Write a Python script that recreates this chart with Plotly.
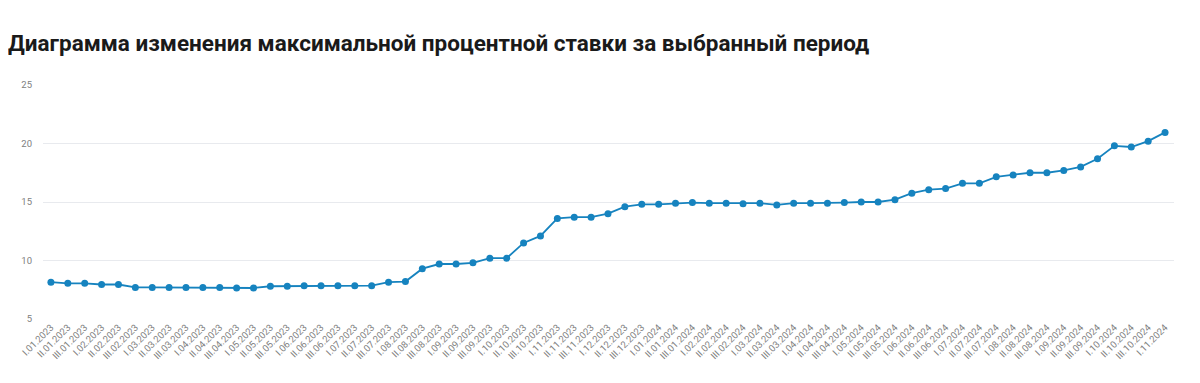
import plotly.graph_objects as go

months = ["01", "02", "03", "04", "05", "06", "07", "08", "09", "10", "11", "12"]
decades = ["I", "II", "III"]
labels = []
for year in ["2023", "2024"]:
    for m in months:
        for d in decades:
            labels.append(f"{d}.{m}.{year}")
labels = labels[:labels.index("I.11.2024") + 1]

values = [
    8.15, 8.05, 8.05, 7.95, 7.95, 7.7, 7.7, 7.7, 7.7, 7.7,
    7.7, 7.65, 7.65, 7.8, 7.8, 7.85, 7.85, 7.85, 7.85, 7.85,
    8.15, 8.2, 9.3, 9.7, 9.7, 9.8, 10.2, 10.2, 11.5, 12.1,
    13.6, 13.7, 13.7, 14.0, 14.6, 14.8, 14.8, 14.9, 14.95, 14.9,
    14.9, 14.85, 14.9, 14.75, 14.9, 14.9, 14.9, 14.95, 15.0, 15.0,
    15.2, 15.75, 16.05, 16.15, 16.6, 16.6, 17.15, 17.3, 17.5, 17.5,
    17.7, 18.0, 18.7, 19.8, 19.7, 20.2, 20.95,
]

y_ticks = [5, 10, 15, 20, 25]
title_text = "Диаграмма изменения максимальной процентной ставки за выбранный период"

fig = go.Figure()
fig.add_trace(go.Scatter(
    x=labels, y=values, mode="lines+markers",
    line=dict(color="#1683bf", width=1.8),
    marker=dict(color="#1683bf", size=7),
    hoverinfo="x+y",
))

# the page body has an 8px margin, so the figure is sized to compensate
fig.update_layout(
    width=1192, height=375,
    paper_bgcolor="white", plot_bgcolor="white",
    margin=dict(l=25, r=26, t=77, b=64),
    showlegend=False,
    title=dict(
        text=title_text, x=0, xanchor="left", y=0.907, yanchor="middle",
        pad=dict(l=0, r=0, t=0, b=0),
        font=dict(family="Roboto", size=22.5, color="#1a1a1a", weight="bold"),
    ),
    font=dict(family="Roboto", color="#7a7a7a"),
)
fig.update_xaxes(
    type="category", categoryorder="array", categoryarray=labels,
    range=[-0.47, len(labels) - 0.47],
    tickangle=-45, tickfont=dict(size=9.5, color="#808080"),
    showgrid=False, zeroline=False, showline=False, ticks="",
)
fig.update_yaxes(
    range=[5, 25], tickvals=y_ticks,
    tickfont=dict(size=9.5, color="#808080"),
    ticklabelstandoff=10,
    showgrid=True, gridcolor="#e8eaee", gridwidth=1,
    zeroline=False, showline=False, ticks="",
)

fig.write_html("out.html")
